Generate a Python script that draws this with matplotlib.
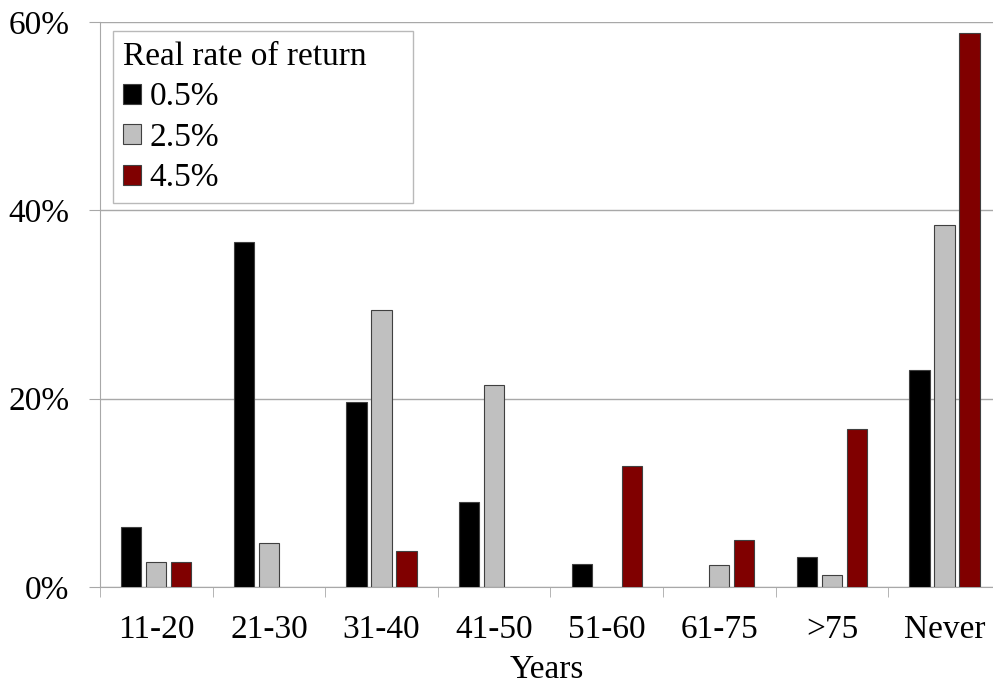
import matplotlib
matplotlib.use("Agg")
import matplotlib.pyplot as plt
import numpy as np
from matplotlib.ticker import FixedLocator, PercentFormatter

categories = ["11-20", "21-30", "31-40", "41-50", "51-60", "61-75", ">75", "Never"]
series_labels = ["0.5%", "2.5%", "4.5%"]
rate_05 = [6.4, 36.6, 19.6, 9.0, 2.4, 0.0, 3.15, 23.0]
rate_25 = [2.7, 4.7, 29.4, 21.5, 0.0, 2.3, 1.3, 38.4]
rate_45 = [2.7, 0.0, 3.8, 0.0, 12.9, 5.0, 16.8, 58.8]
yticks = [0, 20, 40, 60]

colors = ["#000000", "#c0c0c0", "#800000"]
FS = 24

plt.rcParams['font.family'] = ['Liberation Serif', 'DejaVu Serif']
fig = plt.figure(figsize=(9.93, 6.87), dpi=100)
ax = fig.add_axes([100/993, 1 - 587/687, 893/993, (587-22)/687])

x = np.arange(len(categories))
w = 0.178
off = 0.222
for i, (vals, lab, c) in enumerate(zip([rate_05, rate_25, rate_45], series_labels, colors)):
    lws = [0.8 if v > 0 else 0 for v in vals]
    ax.bar(x + (i - 1) * off, vals, width=w, color=c, edgecolor="#404040", linewidth=lws,
           label=lab, zorder=3)

ax.set_ylim(0, 60)
ax.set_xlim(-0.5, -0.5 + 893/112.6)
ax.set_yticks(yticks)
ax.yaxis.set_major_formatter(PercentFormatter(decimals=0))
ax.grid(axis="y", color="#a8a8a8", linewidth=1, zorder=0)
for s in ["top", "right"]:
    ax.spines[s].set_visible(False)
ax.spines["left"].set_color("#a8a8a8")
ax.spines["bottom"].set_color("#a8a8a8")
ax.spines["left"].set_bounds(0, 60)

ax.set_xticks(x)
ax.set_xticklabels(categories, fontsize=FS)
ax.tick_params(axis="x", which="major", length=0, pad=20)
ax.xaxis.set_minor_locator(FixedLocator(np.arange(len(categories) + 1) - 0.5))
ax.tick_params(axis="x", which="minor", length=7, color="#a8a8a8", direction="out")
ax.tick_params(axis="y", length=8, color="#a8a8a8", labelsize=FS, pad=14)

ax.set_xlabel("Years", fontsize=FS, labelpad=7)

leg = ax.legend(title="Real rate of return", loc="upper left",
                bbox_to_anchor=(13/893, 1 - 15/565, 300/893, 0.01), mode="expand",
                fontsize=FS, title_fontsize=FS, frameon=True, fancybox=False,
                handlelength=0.55, handleheight=0.55, handletextpad=0.25,
                labelspacing=0.3, borderpad=0.3, borderaxespad=0, alignment="left")
leg.get_frame().set_edgecolor("#a8a8a8")
leg.get_frame().set_linewidth(1)
leg._legend_box.align = "left"

fig.savefig("out.png", dpi=100)
